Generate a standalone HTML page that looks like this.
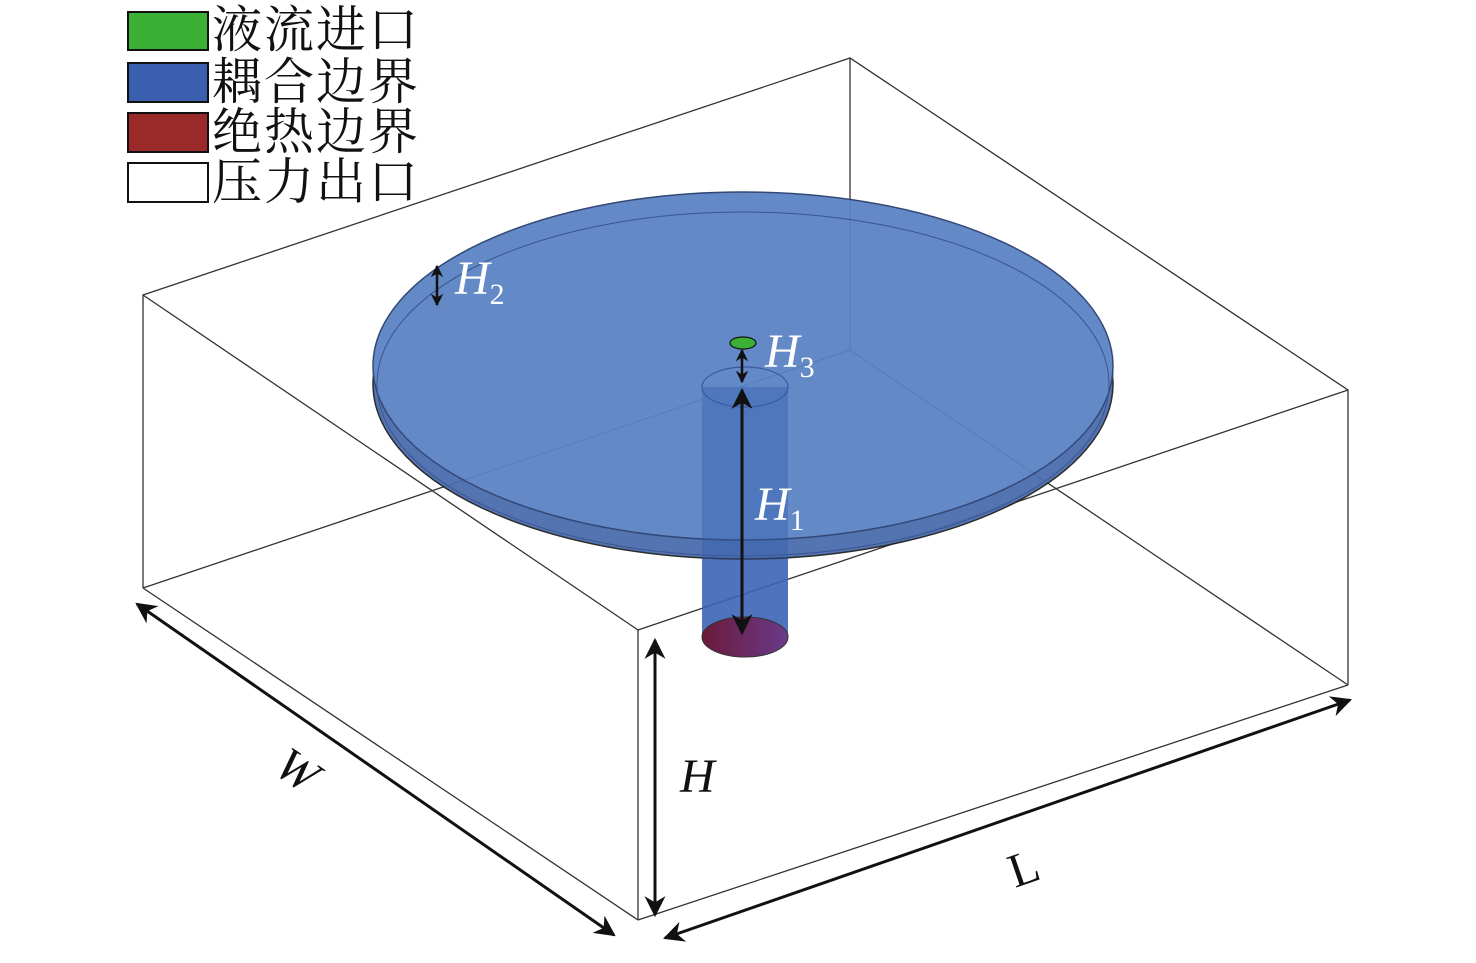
<!DOCTYPE html>
<html><head><meta charset="utf-8"><style>
html,body{margin:0;padding:0;background:#fff;}
.t{font-family:"Liberation Serif","Noto Serif CJK SC",serif;}
</style></head><body>
<svg width="1476" height="958" viewBox="0 0 1476 958" xmlns="http://www.w3.org/2000/svg">
<defs>
<marker id="a" viewBox="0 0 10 10" refX="9" refY="5" markerWidth="7" markerHeight="7" orient="auto-start-reverse"><path d="M0,0 L10,5 L0,10 L3,5 z" fill="#111"/></marker>
<marker id="s" viewBox="0 0 10 10" refX="9" refY="5" markerWidth="5" markerHeight="5" orient="auto-start-reverse"><path d="M0,0 L10,5 L0,10 L3,5 z" fill="#111"/></marker>
<linearGradient id="rg" x1="0" x2="1"><stop offset="0" stop-color="#6a1a3a"/><stop offset="1" stop-color="#6a3a8a"/></linearGradient>
</defs>
<g stroke="#333" stroke-width="1.3" fill="none">
<line x1="850" y1="58" x2="850" y2="350"/>
<line x1="143" y1="588" x2="850" y2="350"/>
<line x1="850" y1="350" x2="1348" y2="685"/>
<line x1="143" y1="295" x2="638" y2="630"/>
<line x1="638" y1="630" x2="1348" y2="390"/>
</g>
<rect x="702" y="387" width="86" height="250" fill="#3d64b5" opacity="0.85"/>
<g opacity="0.95">
<ellipse cx="743" cy="384" rx="370" ry="175" fill="#4a6dad" stroke="#222" stroke-width="1.5"/>
<ellipse cx="743" cy="366" rx="370" ry="174" fill="#5b83c4" stroke="#2a3f70" stroke-width="1.5"/>
</g>
<ellipse cx="743" cy="384" rx="366" ry="172" fill="none" stroke="#3a5590" stroke-width="1"/>
<rect x="702" y="387" width="86" height="250" fill="#3d64b5" opacity="0.35"/>
<ellipse cx="745" cy="387" rx="43" ry="20" fill="none" stroke="#3a5aa0" stroke-width="1.2"/>
<ellipse cx="745" cy="637" rx="43" ry="20" fill="url(#rg)" stroke="#333" stroke-width="1"/>
<ellipse cx="743" cy="343" rx="13" ry="6" fill="#3cb034" stroke="#111" stroke-width="1.2"/>
<g stroke="#333" stroke-width="1.3" fill="none">
<polyline points="143,588 143,295 850,58 1348,390 1348,685"/>
<line x1="638" y1="630" x2="638" y2="920"/>
<line x1="143" y1="588" x2="638" y2="920"/>
<line x1="638" y1="920" x2="1348" y2="685"/>
</g>
<g stroke="#111" stroke-width="3" fill="none">
<line x1="137" y1="604" x2="614" y2="935" marker-start="url(#a)" marker-end="url(#a)"/>
<line x1="665" y1="938" x2="1350" y2="700" marker-start="url(#a)" marker-end="url(#a)"/>
<line x1="655" y1="640" x2="655" y2="915" marker-start="url(#a)" marker-end="url(#a)"/>
<line x1="742" y1="390" x2="742" y2="633" marker-start="url(#a)" marker-end="url(#a)"/>
<line x1="742" y1="350" x2="742" y2="382" stroke-width="2.5" marker-start="url(#s)" marker-end="url(#s)"/>
<line x1="437" y1="266" x2="437" y2="305" stroke-width="2.5" marker-start="url(#s)" marker-end="url(#s)"/>
</g>
<g class="t" font-style="italic" font-size="48">
<text x="455" y="294" fill="#fff">H<tspan font-size="30" font-style="normal" dy="10">2</tspan></text>
<text x="765" y="367" fill="#fff">H<tspan font-size="30" font-style="normal" dy="10">3</tspan></text>
<text x="755" y="520" fill="#fff">H<tspan font-size="30" font-style="normal" dy="10">1</tspan></text>
<text x="680" y="792" fill="#111">H</text>
<text x="0" y="0" fill="#111" transform="translate(272,772) rotate(34)">W</text>
<text x="0" y="0" fill="#111" font-style="normal" transform="translate(1015,888) rotate(-19)">L</text>
</g>
<g stroke="#111" stroke-width="2">
<rect x="128" y="12" width="80" height="38" fill="#3cb034"/>
<rect x="128" y="63" width="80" height="39" fill="#3a5fae"/>
<rect x="128" y="113" width="80" height="39" fill="#9a2a2a"/>
<rect x="128" y="163" width="80" height="39" fill="#fff"/>
</g>
<g class="t" font-size="50" fill="#111" letter-spacing="2">
<text x="212" y="47">液流进口</text>
<text x="212" y="99">耦合边界</text>
<text x="212" y="149">绝热边界</text>
<text x="212" y="199">压力出口</text>
</g>
</svg>
</body></html>
